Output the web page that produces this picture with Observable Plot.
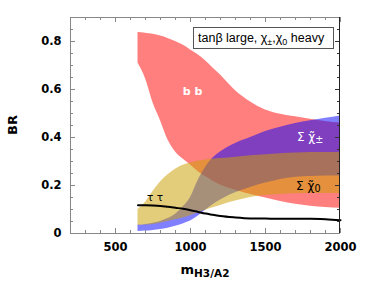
<!DOCTYPE html>
<html><head><meta charset="utf-8">
<script src="https://cdn.jsdelivr.net/npm/d3@7"></script>
<script src="https://cdn.jsdelivr.net/npm/@observablehq/plot@0.6"></script>
<style>body{margin:0;background:#fff}#chart{width:366px;height:292px}</style>
</head><body><div id="chart"></div>
<script>
// masses of H3/A2 (GeV)
const mass     = [650, 700, 750, 800, 850, 900, 950, 1000, 1050, 1100, 1150, 1200, 1300, 1400, 1500, 1600, 1700, 1800, 1900, 2000];
// BR(b b) band
const bbLow    = [0.71, 0.645, 0.545, 0.47, 0.39, 0.34, 0.31, 0.285, 0.258, 0.237, 0.218, 0.202, 0.18, 0.163, 0.148, 0.133, 0.122, 0.114, 0.108, 0.105];
const bbHigh   = [0.837, 0.834, 0.83, 0.823, 0.813, 0.80, 0.785, 0.765, 0.745, 0.72, 0.69, 0.66, 0.595, 0.548, 0.515, 0.497, 0.486, 0.476, 0.467, 0.46];
// BR(sum charginos) band
const chaLow   = [0.008, 0.01, 0.013, 0.017, 0.022, 0.03, 0.04, 0.052, 0.072, 0.097, 0.12, 0.14, 0.17, 0.192, 0.21, 0.225, 0.234, 0.238, 0.24, 0.24];
const chaHigh  = [0.035, 0.038, 0.043, 0.05, 0.062, 0.08, 0.11, 0.15, 0.22, 0.275, 0.315, 0.34, 0.375, 0.40, 0.425, 0.443, 0.458, 0.47, 0.48, 0.49];
// BR(sum neutralinos) band
const neuLow   = [0.033, 0.035, 0.038, 0.043, 0.05, 0.057, 0.065, 0.074, 0.086, 0.097, 0.107, 0.117, 0.135, 0.15, 0.158, 0.163, 0.166, 0.167, 0.167, 0.167];
const neuHigh  = [0.10, 0.13, 0.175, 0.215, 0.245, 0.268, 0.284, 0.294, 0.301, 0.306, 0.309, 0.312, 0.318, 0.324, 0.328, 0.332, 0.335, 0.337, 0.338, 0.338];
// BR(tau tau) line
const tautau   = [0.118, 0.118, 0.117, 0.115, 0.111, 0.107, 0.103, 0.097, 0.09, 0.083, 0.078, 0.073, 0.067, 0.063, 0.062, 0.061, 0.061, 0.061, 0.059, 0.055];

const xMajor = [500, 1000, 1500, 2000];
const xMajorLabels = ["500", "1000", "1500", "2000"];
const xMinor = d3.range(200, 2001, 100);
const yMajor = [0, 0.2, 0.4, 0.6, 0.8];
const yMajorLabels = ["0", "0.2", "0.4", "0.6", "0.8"];
const yMinor = d3.range(0, 0.9001, 0.05);

const rows = mass.map((m, i) => ({m, bbLow: bbLow[i], bbHigh: bbHigh[i], chaLow: chaLow[i], chaHigh: chaHigh[i],
  neuLow: neuLow[i], neuHigh: neuHigh[i], tautau: tautau[i]}));

const svg = Plot.plot({
  width: 366, height: 292,
  marginLeft: 70, marginRight: 26, marginTop: 17, marginBottom: 59,
  x: {domain: [200, 2000]},
  y: {domain: [0, 0.9]},
  style: {fontFamily: "DejaVu Sans", background: "white", color: "black"},
  marks: [
    Plot.areaY(rows, {x: "m", y1: "bbLow", y2: "bbHigh", fill: "#ff0000", fillOpacity: 0.5, curve: "monotone-x"}),
    Plot.areaY(rows, {x: "m", y1: "chaLow", y2: "chaHigh", fill: "#0000ff", fillOpacity: 0.5, curve: "monotone-x"}),
    Plot.areaY(rows, {x: "m", y1: "neuLow", y2: "neuHigh", fill: "rgb(204,160,0)", fillOpacity: 0.52, curve: "monotone-x"}),
    Plot.lineY(rows, {x: "m", y: "tautau", stroke: "black", strokeWidth: 2, curve: "monotone-x"}),
    Plot.axisX({ticks: xMajor, tickSize: 0, tickPadding: 9, tickFormat: d => xMajorLabels[xMajor.indexOf(d)],
      fontWeight: "bold", fontSize: 11.5, label: null}),
    Plot.axisY({ticks: yMajor, tickSize: 0, tickPadding: 9, tickFormat: d => yMajorLabels[yMajor.indexOf(d)],
      fontWeight: "bold", fontSize: 11.5, label: null})
  ]
});
document.getElementById("chart").appendChild(svg);

const X = svg.scale("x"), Y = svg.scale("y");
const [x0, x1] = X.range, [y0, y1] = Y.range; // y0 bottom, y1 top
const g = d3.select(svg).append("g").attr("font-family", "DejaVu Sans").attr("text-anchor", "start");

// frame + inward ticks, positioned through the plot scales
const tg = g.append("g").attr("fill", "none").attr("stroke-width", 1);
const tc = "#888";
const line = (a, b, c, d, s) => tg.append("line").attr("x1", a).attr("y1", b).attr("x2", c).attr("y2", d).attr("stroke", s);
for (const v of xMinor) {
  const len = xMajor.includes(v) ? 5 : 3, px = Math.round(X.apply(v)) + 0.5;
  line(px, y0, px, y0 - len, tc);
  line(px, y1, px, y1 + len, tc);
}
for (const v of yMinor) {
  const len = yMajor.some(m => Math.abs(m - v) < 1e-9) ? 5 : 3, py = Math.round(Y.apply(v)) + 0.5;
  line(x0, py, x0 + len, py, tc);
  line(x1, py, x1 - len, py, "#333");
}
line(x0 + 0.5, y1, x0 + 0.5, y0, tc);
line(x0, y0 + 0.5, x1, y0 + 0.5, tc);
line(x0, y1 + 0.5, x1, y1 + 0.5, tc);
line(x1 - 0.5, y1, x1 - 0.5, y0, "#222");

// axis titles
g.append("text").attr("transform", "translate(17,125) rotate(-90)").attr("text-anchor", "middle")
  .attr("font-weight", "bold").attr("font-size", 13).text("BR");
const xl = g.append("text").attr("x", (x0 + x1) / 2).attr("y", 274).attr("text-anchor", "middle")
  .attr("font-weight", "bold").attr("font-size", 13);
xl.append("tspan").text("m");
xl.append("tspan").attr("font-size", 10.5).attr("dy", 3).text("H3/A2");

// legend box
g.append("rect").attr("x", 193.5).attr("y", 27.5).attr("width", 140).attr("height", 21)
  .attr("fill", "white").attr("stroke", "#555");
const lt = g.append("text").attr("x", 198).attr("y", 41.5).attr("text-anchor", "start")
  .attr("font-family", "Liberation Sans").attr("font-size", 12.5);
lt.append("tspan").text("tanβ large, χ");
lt.append("tspan").attr("font-size", 9).attr("dy", 3).text("±");
lt.append("tspan").attr("dy", -3).text(",χ");
lt.append("tspan").attr("font-size", 9).attr("dy", 3).text("0");
lt.append("tspan").attr("dy", -3).text(" heavy");

// annotations
const labels = [
  {m: 1017, br: 0.575, parts: [["b b", 0]], fill: "white", weight: "bold", size: 11, anchor: "middle"},
  {m: 767, br: 0.133, parts: [["τ τ", 0]], fill: "black", weight: "normal", size: 10.5, anchor: "middle"},
  {m: 1713, br: 0.383, parts: [["Σ χ\u0303", 0], ["±", 2]], fill: "white", weight: "normal", size: 12, anchor: "start"},
  {m: 1707, br: 0.179, parts: [["Σ χ\u0303", 0], ["0", 2]], fill: "black", weight: "normal", size: 12, anchor: "start"}
];
for (const L of labels) {
  const t = g.append("text").attr("x", X.apply(L.m)).attr("y", Y.apply(L.br)).attr("fill", L.fill)
    .attr("font-weight", L.weight).attr("font-size", L.size).attr("text-anchor", L.anchor);
  for (const [s, dy] of L.parts) {
    const ts = t.append("tspan").text(s);
    if (dy) ts.attr("dy", dy).attr("font-size", L.size * 0.8);
  }
}
</script></body></html>
